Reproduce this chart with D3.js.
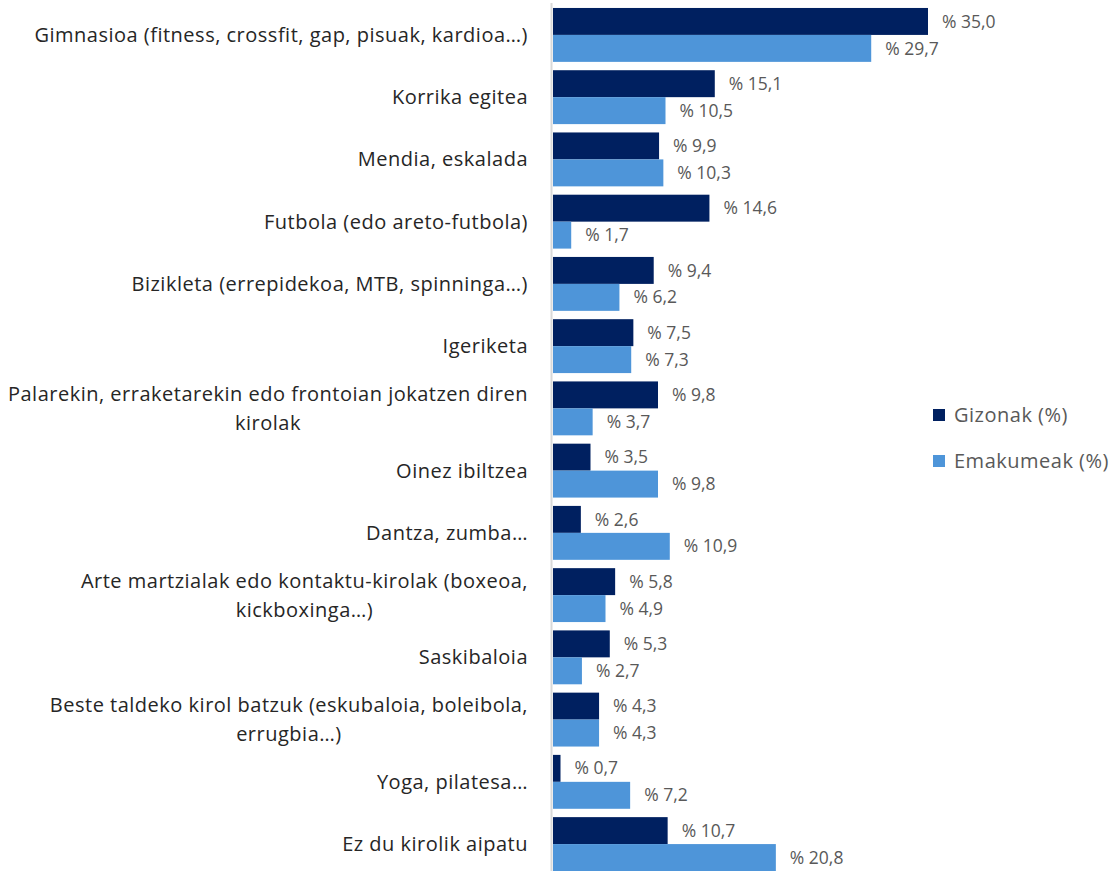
<!DOCTYPE html>
<html>
<head>
<meta charset="utf-8">
<script src="https://cdn.jsdelivr.net/npm/d3@7"></script>
<style>
  html, body { margin: 0; padding: 0; background: #ffffff; }
  svg { display: block; }
</style>
</head>
<body>
<svg id="chart" width="1120" height="871"></svg>
<script>
// Activity categories (line breaks mark where a label wraps)
const categories = [
  "Gimnasioa (fitness, crossfit, gap, pisuak, kardioa…)",
  "Korrika egitea",
  "Mendia, eskalada",
  "Futbola (edo areto-futbola)",
  "Bizikleta (errepidekoa, MTB, spinninga…)",
  "Igeriketa",
  "Palarekin, erraketarekin edo frontoian jokatzen diren\nkirolak",
  "Oinez ibiltzea",
  "Dantza, zumba…",
  "Arte martzialak edo kontaktu-kirolak (boxeoa,\nkickboxinga…)",
  "Saskibaloia",
  "Beste taldeko kirol batzuk (eskubaloia, boleibola,\nerrugbia…)",
  "Yoga, pilatesa…",
  "Ez du kirolik aipatu"
];

const seriesNames = ["Gizonak (%)", "Emakumeak (%)"];
const gizonak   = [35.0, 15.1, 9.9, 14.6, 9.4, 7.5, 9.8, 3.5, 2.6, 5.8, 5.3, 4.3, 0.7, 10.7];
const emakumeak = [29.7, 10.5, 10.3, 1.7, 6.2, 7.3, 3.7, 9.8, 10.9, 4.9, 2.7, 4.3, 7.2, 20.8];
const seriesColors = ["#002060", "#4e95d9"];

const FONT = "'Open Sans', sans-serif";
const svg = d3.select("#chart");

const x0 = 552;
const x = d3.scaleLinear().domain([0, 35]).range([x0, 927]);
const y = d3.scaleBand()
  .domain(categories)
  .range([3.8, 875.2])
  .paddingInner(0.134)
  .paddingOuter(0.067);
const ySub = d3.scaleBand().domain(seriesNames).range([0, y.bandwidth()]);

const rows = categories.map((c, i) => ({ cat: c, values: [gizonak[i], emakumeak[i]] }));
const fmt = v => "% " + v.toFixed(1).replace(".", ",");

// vertical category axis line
svg.append("line")
  .attr("x1", x0 - 0.5).attr("x2", x0 - 0.5)
  .attr("y1", 3).attr("y2", 871)
  .attr("stroke", "#d9d9d9").attr("stroke-width", 2);

const groups = svg.selectAll("g.row").data(rows).join("g")
  .attr("class", "row")
  .attr("transform", d => `translate(0,${y(d.cat)})`);

groups.selectAll("rect").data(d => d.values.map((v, j) => ({ v, s: seriesNames[j], j }))).join("rect")
  .attr("x", x(0) + 1)
  .attr("y", d => ySub(d.s))
  .attr("width", d => x(d.v) - x(0))
  .attr("height", ySub.bandwidth())
  .attr("fill", d => seriesColors[d.j]);

groups.selectAll("text.val").data(d => d.values.map((v, j) => ({ v, s: seriesNames[j] }))).join("text")
  .attr("class", "val")
  .attr("x", d => x(d.v) + 15)
  .attr("y", d => ySub(d.s) + ySub.bandwidth() / 2)
  .attr("dy", "0.35em")
  .attr("font-family", FONT)
  .attr("font-size", 17.5)
  .attr("fill", "#595959")
  .text(d => fmt(d.v));

// category labels, wrapped lines centred on each other and right-aligned as a block
const labelRight = 528;
const lineH = 29;
groups.each(function(d) {
  const g = d3.select(this);
  const lines = d.cat.split("\n");
  const t = g.append("text")
    .attr("font-family", FONT)
    .attr("font-size", 20)
    .attr("letter-spacing", 0.5)
    .attr("fill", "#262626");
  const cy = y.bandwidth() / 2;
  const top = cy - (lines.length - 1) * lineH / 2;
  const spans = lines.map((ln, k) => t.append("tspan")
    .attr("y", top + k * lineH)
    .attr("dy", "0.35em")
    .attr("text-anchor", "middle")
    .text(ln));
  const widths = spans.map(s => s.node().getComputedTextLength());
  const maxW = d3.max(widths);
  spans.forEach(s => s.attr("x", labelRight - maxW / 2));
});

// legend
const legend = svg.append("g").attr("transform", "translate(933,0)");
seriesNames.forEach((name, i) => {
  const cy = 415 + i * 46;
  legend.append("rect")
    .attr("x", 0).attr("y", cy - 6).attr("width", 12).attr("height", 12)
    .attr("fill", seriesColors[i]);
  legend.append("text")
    .attr("x", 21).attr("y", cy).attr("dy", "0.35em")
    .attr("font-family", FONT).attr("font-size", 20)
    .attr("letter-spacing", 0.5)
    .attr("fill", "#595959")
    .text(name);
});
</script>
</body>
</html>
